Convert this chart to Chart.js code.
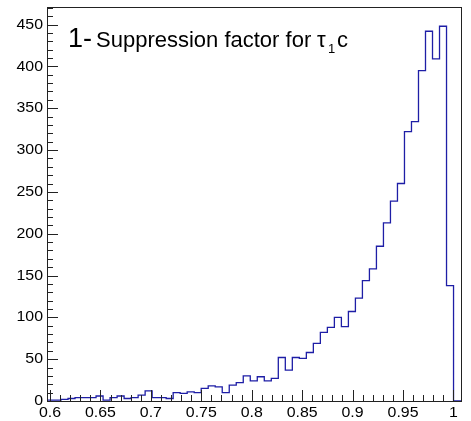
<!DOCTYPE html>
<html>
<head>
  <meta charset="UTF-8" />
  <title>Suppression factor</title>
  <script src="https://cdn.jsdelivr.net/npm/chart.js"></script>
  <style>
    body { margin: 0; background: #fff; }
    #chart { display: block; }
  </style>
</head>
<body>
  <canvas id="chart" width="471" height="421"></canvas>
  <script>
    // histogram definition: 58 bins starting at binLow
    const binLow = 0.597;
    const binWidth = 0.00695;
    const xMin = 0.597, xMax = 1.0075;
    const yMin = 0, yMax = 471;
    const counts = [
      1, 1, 2, 3, 4, 4, 4, 6, 1, 4,
      6, 3, 4, 7, 12, 4, 4, 3, 10, 9,
      11, 10, 15, 18, 17, 10, 19, 22, 30, 24,
      29, 24, 27, 52, 37, 52, 51, 58, 69, 82,
      88, 100, 89, 107, 123, 144, 158, 185, 213, 239,
      260, 322, 334, 395, 442, 409, 448, 138
    ];
    const xTickValues = [0.6, 0.65, 0.7, 0.75, 0.8, 0.85, 0.9, 0.95, 1];
    const xTickLabels = ['0.6', '0.65', '0.7', '0.75', '0.8', '0.85', '0.9', '0.95', '1'];
    const yTickValues = [0, 50, 100, 150, 200, 250, 300, 350, 400, 450];
    const yTickLabels = ['0', '50', '100', '150', '200', '250', '300', '350', '400', '450'];

    // outline points at the low edge of every bin, then back to zero
    const points = counts.map((c, i) => ({ x: binLow + i * binWidth, y: c }));
    points.push({ x: binLow + counts.length * binWidth, y: 0 });
    points.push({ x: xMax, y: 0 });

    const FONT = 'Liberation Sans, Arial, sans-serif';

    // helper: text stretched a little horizontally like the original labels
    function wideText(ctx, s, x, y, align) {
      const sx = 1.06;
      const w = ctx.measureText(s).width * sx;
      let left = x;
      if (align === 'center') left = x - w / 2;
      if (align === 'right') left = x - w;
      ctx.save();
      ctx.translate(left, y);
      ctx.scale(sx, 1);
      ctx.textAlign = 'left';
      ctx.fillText(s, 0, 0);
      ctx.restore();
    }

    // ROOT style frame, inward ticks, labels and title
    const framePlugin = {
      id: 'frame',
      afterDraw(chart) {
        const { ctx, chartArea: a, scales: { x, y } } = chart;
        ctx.save();
        ctx.strokeStyle = '#222';
        ctx.lineWidth = 1;
        ctx.beginPath();
        for (let k = 60; k <= 100; k++) {
          const px = Math.round(x.getPixelForValue(k / 100)) + 0.5;
          const len = k % 5 === 0 ? 11 : 6;
          ctx.moveTo(px, a.bottom);
          ctx.lineTo(px, a.bottom - len);
        }
        for (let v = 0; v <= 470; v += 10) {
          const py = Math.round(y.getPixelForValue(v)) + 0.5;
          const len = v % 50 === 0 ? 11 : 6;
          ctx.moveTo(a.left, py);
          ctx.lineTo(a.left + len, py);
        }
        ctx.stroke();
        ctx.strokeRect(Math.round(a.left) + 0.5, Math.round(a.top) + 0.5,
          Math.round(a.right - a.left), Math.round(a.bottom - a.top));

        ctx.fillStyle = '#000';
        ctx.font = '15px ' + FONT;
        ctx.textBaseline = 'middle';
        yTickValues.forEach((v, i) => wideText(ctx, yTickLabels[i], a.left - 4, y.getPixelForValue(v), 'right'));
        ctx.textBaseline = 'alphabetic';
        xTickValues.forEach((v, i) => wideText(ctx, xTickLabels[i], x.getPixelForValue(v), 417, 'center'));

        // title
        ctx.font = '27px ' + FONT;
        ctx.fillText('1-', 68, 47);
        ctx.font = '22px ' + FONT;
        ctx.fillText('Suppression factor for', 96, 47);
        ctx.fillText('τ', 317, 47);
        ctx.font = '13px ' + FONT;
        ctx.fillText('1', 328, 53);
        ctx.font = '22px ' + FONT;
        ctx.fillText('c', 337, 47);
        ctx.restore();
      }
    };

    new Chart(document.getElementById('chart'), {
      type: 'line',
      data: {
        datasets: [{
          data: points,
          stepped: true,
          fill: false,
          borderColor: '#1e1ea6',
          borderWidth: 1.3,
          pointRadius: 0
        }]
      },
      options: {
        responsive: false,
        animation: false,
        devicePixelRatio: 1,
        layout: { padding: { top: 7, right: 10, left: 0, bottom: 0 } },
        plugins: { legend: { display: false }, tooltip: { enabled: false } },
        scales: {
          x: {
            type: 'linear', min: xMin, max: xMax,
            grid: { display: false }, border: { display: false },
            ticks: { display: false },
            afterFit: s => { s.height = 20; }
          },
          y: {
            min: yMin, max: yMax,
            grid: { display: false }, border: { display: false },
            ticks: { display: false },
            afterFit: s => { s.width = 47; }
          }
        }
      },
      plugins: [framePlugin]
    });
  </script>
</body>
</html>
